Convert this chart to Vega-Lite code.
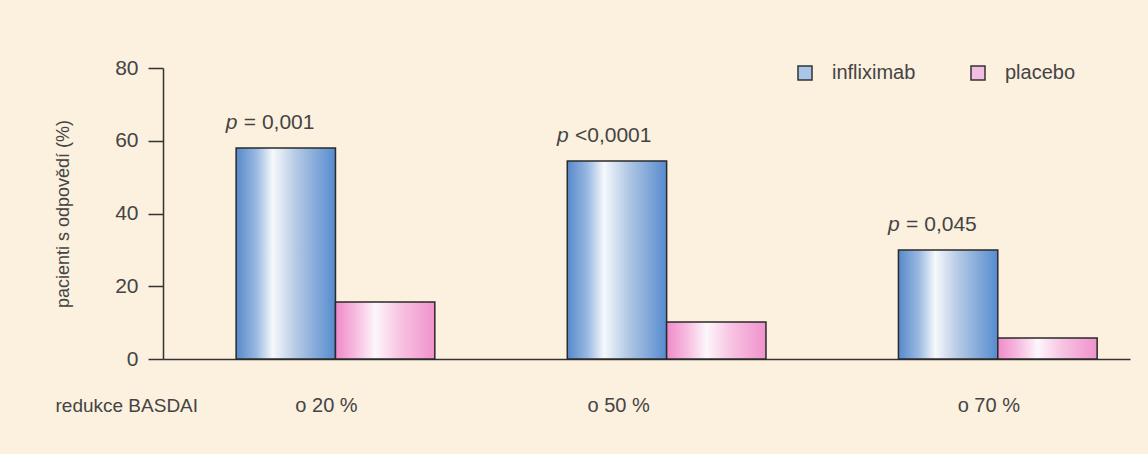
{
  "$schema": "https://vega.github.io/schema/vega-lite/v6.json",
  "width": 967,
  "height": 291,
  "autosize": {"type": "none"},
  "padding": {"left": 163, "top": 68, "right": 18, "bottom": 95},
  "background": "#fcf0df",
  "config": {
    "view": {"stroke": null},
    "font": "Liberation Sans",
    "axis": {"labelFont": "Liberation Sans", "titleFont": "Liberation Sans", "labelColor": "#444", "titleColor": "#444", "domainColor": "#333", "tickColor": "#333", "domainWidth": 1.5, "tickWidth": 1.5, "grid": false},
    "legend": {"labelFont": "Liberation Sans", "labelColor": "#444"}
  },
  "data": {
    "values": [
      {"group": "o 20 %", "series": "infliximab", "value": 58, "pp": "p", "pv": "= 0,001"},
      {"group": "o 20 %", "series": "placebo", "value": 15.7},
      {"group": "o 50 %", "series": "infliximab", "value": 54.4, "pp": "p", "pv": "<0,0001"},
      {"group": "o 50 %", "series": "placebo", "value": 10.2},
      {"group": "o 70 %", "series": "infliximab", "value": 30, "pp": "p", "pv": "= 0,045"},
      {"group": "o 70 %", "series": "placebo", "value": 5.8}
    ]
  },
  "encoding": {
    "x": {
      "field": "group", "type": "nominal",
      "scale": {"paddingInner": 0.4, "paddingOuter": 0.16, "align": 0.69},
      "axis": {"title": "redukce BASDAI", "labelAngle": 0, "ticks": false, "labelFontSize": 20, "labelPadding": 36,
        "labelOffset": {"condition": {"test": "datum.value === 'o 50 %'", "value": -48}, "value": -9},
        "titleFontSize": 19, "titleFontWeight": "normal", "titleX": -108, "titleY": 46, "titleAlign": "left", "titleBaseline": "middle", "titleAnchor": "start"}
    },
    "xOffset": {"field": "series", "type": "nominal", "scale": {"domain": ["infliximab", "placebo"], "paddingInner": 0, "paddingOuter": 0}},
    "y": {
      "field": "value", "type": "quantitative",
      "scale": {"domain": [0, 80]},
      "axis": {"title": "pacienti s odpovědí (%)", "values": [0, 20, 40, 60, 80], "tickSize": 15, "labelFontSize": 21, "labelPadding": 10, "titleFontSize": 18, "titleFontWeight": "normal", "titlePadding": 42}
    }
  },
  "layer": [
    {
      "mark": {"type": "bar"},
      "encoding": {
        "color": {
          "field": "series", "type": "nominal",
          "scale": {"domain": ["infliximab", "placebo"], "range": ["#a9c5e8", "#f2bde0"]},
          "legend": {"title": null, "orient": "none", "legendX": 632, "legendY": -5, "direction": "horizontal", "symbolType": "square", "symbolSize": 196, "symbolStrokeColor": "#333", "symbolStrokeWidth": 1.5, "labelFontSize": 20, "labelOffset": 17, "columnPadding": 52, "padding": 0}
        }
      }
    },
    {
      "transform": [{"filter": "datum.series === 'infliximab'"}],
      "mark": {
        "type": "bar", "stroke": "#2a2a2a", "strokeWidth": 1.5,
        "fill": {"gradient": "linear", "x1": 0, "y1": 0, "x2": 1, "y2": 0, "stops": [
          {"offset": 0, "color": "#5689cb"},
          {"offset": 0.2, "color": "#98b8e0"},
          {"offset": 0.37, "color": "#f6f8fc"},
          {"offset": 0.6, "color": "#b5cae5"},
          {"offset": 1, "color": "#568bcf"}
        ]}
      }
    },
    {
      "transform": [{"filter": "datum.series === 'placebo'"}],
      "mark": {
        "type": "bar", "stroke": "#2a2a2a", "strokeWidth": 1.5,
        "fill": {"gradient": "linear", "x1": 0, "y1": 0, "x2": 1, "y2": 0, "stops": [
          {"offset": 0, "color": "#f08ac9"},
          {"offset": 0.2, "color": "#f6bbdf"},
          {"offset": 0.4, "color": "#fdf6fb"},
          {"offset": 0.65, "color": "#f7c3e2"},
          {"offset": 1, "color": "#f092cc"}
        ]}
      }
    },
    {
      "transform": [{"filter": "datum.series === 'infliximab'"}],
      "mark": {"type": "text", "align": "left", "baseline": "alphabetic", "dx": -60, "dy": -19, "fontSize": 21, "fontStyle": "italic", "color": "#444"},
      "encoding": {"text": {"field": "pp"}}
    },
    {
      "transform": [{"filter": "datum.series === 'infliximab'"}],
      "mark": {"type": "text", "align": "left", "baseline": "alphabetic", "dx": -42, "dy": -19, "fontSize": 21, "color": "#444"},
      "encoding": {"text": {"field": "pv"}}
    }
  ]
}
